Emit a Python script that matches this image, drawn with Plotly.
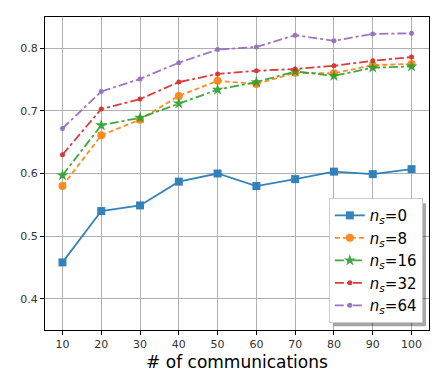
import plotly.graph_objects as go

comms = [10, 20, 30, 40, 50, 60, 70, 80, 90, 100]
ns0 = [0.458, 0.540, 0.549, 0.587, 0.600, 0.580, 0.591, 0.603, 0.599, 0.607]
ns8 = [0.580, 0.661, 0.686, 0.724, 0.748, 0.743, 0.761, 0.760, 0.773, 0.775]
ns16 = [0.597, 0.677, 0.689, 0.712, 0.734, 0.746, 0.763, 0.756, 0.769, 0.771]
ns32 = [0.630, 0.703, 0.719, 0.746, 0.759, 0.764, 0.767, 0.772, 0.780, 0.786]
ns64 = [0.672, 0.731, 0.751, 0.777, 0.798, 0.802, 0.821, 0.812, 0.823, 0.824]

labels = ["0", "8", "16", "32", "64"]
series = [ns0, ns8, ns16, ns32, ns64]
colors = ["#1f77b4", "#ff7f0e", "#2ca02c", "#d62728", "#9467bd"]
dashes = ["solid", "5px,3px", "dashdot", "dashdot", "dashdot"]
symbols = ["square", "circle", "star", "circle", "circle"]
msizes = [8, 8, 9, 5, 5]

fig = go.Figure()
for lab, ys, c, d, s, ms in zip(labels, series, colors, dashes, symbols, msizes):
    fig.add_trace(go.Scatter(
        x=comms, y=ys, mode="lines+markers",
        name="<i>n</i><sub><i>s</i></sub>=" + lab,
        line=dict(color=c, width=1.8, dash=d),
        marker=dict(symbol=s, size=ms, color=c, line=dict(width=0)),
        opacity=0.9,
    ))

axis_common = dict(
    showgrid=True, gridcolor="#b0b0b0", gridwidth=1,
    showline=True, linecolor="black", linewidth=1.2, mirror=True,
    ticks="outside", ticklen=4, tickcolor="black",
    tickfont=dict(family="DejaVu Sans", size=11, color="#333333"),
    zeroline=False,
)

fig.update_layout(
    width=446, height=389,
    margin=dict(l=37, r=25, t=9, b=67),
    paper_bgcolor="white", plot_bgcolor="white",
    font=dict(family="DejaVu Sans"),
    xaxis=dict(range=[5.5, 104.5], tickvals=comms,
               title=dict(text="# of communications", font=dict(size=17, color="black"), standoff=5),
               **axis_common),
    yaxis=dict(range=[0.35, 0.85], tickvals=[0.4, 0.5, 0.6, 0.7, 0.8],
               ticktext=["0.4", "0.5", "0.6", "0.7", "0.8"], **axis_common),
    legend=dict(x=0.984, y=0.022, xanchor="right", yanchor="bottom",
                bgcolor="white", bordercolor="#cccccc", borderwidth=1,
                font=dict(family="DejaVu Sans", size=15, color="black"),
                tracegroupgap=0, itemwidth=30),
    shapes=[dict(type="rect", xref="paper", yref="paper",
                 x0=0.752, x1=0.992, y0=0.012, y1=0.405,
                 fillcolor="rgba(0,0,0,0.35)", line=dict(width=0), layer="above")],
)

fig.write_html("out.html")
